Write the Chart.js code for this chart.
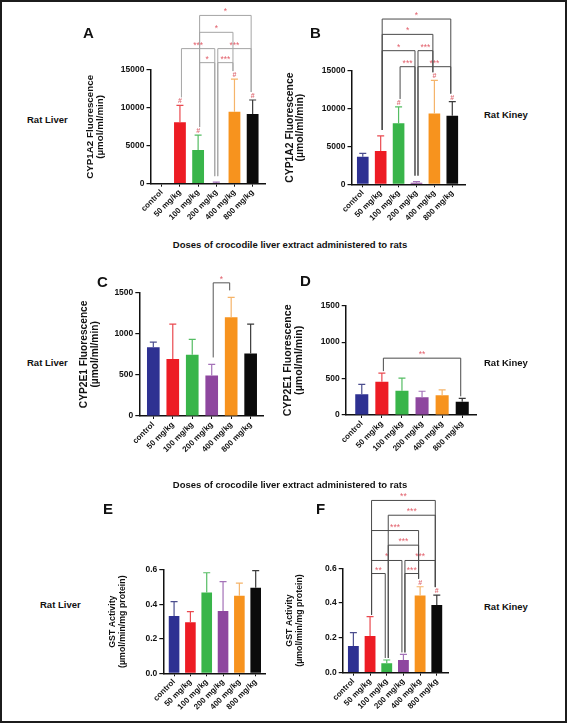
<!DOCTYPE html>
<html>
<head>
<meta charset="utf-8">
<script src="https://cdn.jsdelivr.net/npm/chart.js@4.4.1/dist/chart.umd.min.js"></script>
<style>
  html, body { margin: 0; padding: 0; background: #fff; }
  #page { position: relative; width: 567px; height: 723px; overflow: hidden; font-family: "Liberation Sans", Arial, sans-serif; }
  #frame { position: absolute; left: 0; top: 0; width: 567px; height: 723px; box-sizing: border-box; border: 2px solid #1c1c1c; z-index: 5; }
  canvas { position: absolute; }
  .lbl { position: absolute; font-weight: bold; color: #111; white-space: nowrap; z-index: 4; }
</style>
</head>
<body>
<div id="page">
  <div id="frame"></div>
  <div class="lbl" style="left:83px;top:25px;font-size:15px;line-height:16px">A</div>
  <div class="lbl" style="left:310px;top:25px;font-size:15px;line-height:16px">B</div>
  <div class="lbl" style="left:97px;top:274px;font-size:15px;line-height:16px">C</div>
  <div class="lbl" style="left:300px;top:273px;font-size:15px;line-height:16px">D</div>
  <div class="lbl" style="left:103px;top:501px;font-size:15px;line-height:16px">E</div>
  <div class="lbl" style="left:316px;top:501px;font-size:15px;line-height:16px">F</div>

  <div class="lbl" style="left:27px;top:114px;font-size:9.5px;line-height:12px">Rat Liver</div>
  <div class="lbl" style="left:27px;top:357px;font-size:9.5px;line-height:12px">Rat Liver</div>
  <div class="lbl" style="left:40px;top:599px;font-size:9.5px;line-height:12px">Rat Liver</div>
  <div class="lbl" style="left:484px;top:109px;font-size:9.5px;line-height:12px">Rat Kiney</div>
  <div class="lbl" style="left:484px;top:357px;font-size:9.5px;line-height:12px">Rat Kiney</div>
  <div class="lbl" style="left:484px;top:601px;font-size:9.5px;line-height:12px">Rat Kiney</div>

  <div class="lbl" style="left:0;width:580px;text-align:center;top:239px;font-size:9.5px;line-height:12px">Doses of crocodile liver extract administered to rats</div>
  <div class="lbl" style="left:0;width:580px;text-align:center;top:479px;font-size:9.5px;line-height:12px">Doses of crocodile liver extract administered to rats</div>

  <canvas id="cA"></canvas>
  <canvas id="cB"></canvas>
  <canvas id="cC"></canvas>
  <canvas id="cD"></canvas>
  <canvas id="cE"></canvas>
  <canvas id="cF"></canvas>
</div>

<script>
const doses = ['control', '50 mg/kg', '100 mg/kg', '200 mg/kg', '400 mg/kg', '800 mg/kg']

// y tick values per measure
const cyp1a2Ticks = [0, 5000, 10000, 15000]
const cyp2e1Ticks = [0, 500, 1000, 1500]
const gstTicks = [0, 0.2, 0.4, 0.6]

// A - CYP1A2, rat liver
const cyp1a2LiverMean = [0, 8100, 4450, 100, 9500, 9200]
const cyp1a2LiverSd = [0, 2230, 1970, 100, 4300, 1840]
const cyp1a2LiverHash = [0, 1, 1, 0, 1, 1]
// [from, to, bracket height (y units), label]
const cyp1a2LiverSig = [
  [2, 3, 15970, '*'], [3, 4, 15970, '***'],
  [1, 3, 17820, '***'], [3, 5, 17820, '***'],
  [2, 4, 19970, '*'],
  [2, 5, 22200, '*'],
]

// B - CYP1A2, rat kidney
const cyp1a2KidneyMean = [3660, 4410, 8080, 200, 9360, 9090]
const cyp1a2KidneySd = [440, 1990, 2160, 150, 4410, 1850]
const cyp1a2KidneyHash = [0, 0, 1, 0, 1, 1]
const cyp1a2KidneySig = [
  [2, 3, 15570, '***'], [3, 5, 15570, '***'],
  [1, 3, 17690, '*'], [3, 4, 17690, '***'],
  [1, 4, 19850, '*'],
  [1, 5, 21880, '*'],
]

// C - CYP2E1, rat liver
const cyp2e1LiverMean = [835, 692, 745, 493, 1200, 760]
const cyp2e1LiverSd = [63, 426, 188, 134, 243, 358]
const cyp2e1LiverHash = [0, 0, 0, 0, 0, 0]
const cyp2e1LiverSig = [[3, 4, 1620, '*']]

// D - CYP2E1, rat kidney
const cyp2e1KidneyMean = [284, 458, 332, 243, 272, 183]
const cyp2e1KidneySd = [136, 117, 173, 83, 72, 46]
const cyp2e1KidneyHash = [0, 0, 0, 0, 0, 0]
const cyp2e1KidneySig = [[1, 5, 780, '**']]

// E - GST, rat liver
const gstLiverMean = [0.333, 0.296, 0.470, 0.362, 0.450, 0.497]
const gstLiverSd = [0.083, 0.062, 0.114, 0.170, 0.074, 0.099]
const gstLiverHash = [0, 0, 0, 0, 0, 0]
const gstLiverSig = []

// F - GST, rat kidney
const gstKidneyMean = [0.153, 0.211, 0.054, 0.073, 0.444, 0.389]
const gstKidneySd = [0.077, 0.111, 0.019, 0.032, 0.050, 0.057]
const gstKidneyHash = [0, 0, 0, 0, 1, 1]
const gstKidneySig = [
  [1, 2, 0.570, '**'], [3, 4, 0.570, '***'],
  [1, 3, 0.645, '*'], [3, 5, 0.645, '***'],
  [2, 4, 0.733, '***'],
  [1, 4, 0.817, '***'],
  [2, 5, 0.905, '***'],
  [1, 5, 0.990, '**'],
]

const barColors = ['#2E3192', '#ED1C24', '#39B54A', '#8E479F', '#F7931E', '#0B0B0B']
const errColors = ['#4B4E8E', '#EA4A50', '#55BD63', '#A472B8', '#F5B46A', '#3A3A3A']
const FONT = '"Liberation Sans", Arial, sans-serif'
const XH = 44

function makePanel(o) {
  const lh = o.titleSize * o.titleLine
  const cl = Math.round(o.titleX - lh / 2)
  const ct = o.top
  const cr = Math.round(o.plot.r + 16)
  const cb = Math.round(o.plot.b + XH + 2)
  const canvas = document.getElementById(o.id)
  canvas.width = cr - cl
  canvas.height = cb - ct
  canvas.style.left = cl + 'px'
  canvas.style.top = ct + 'px'

  const want = { left: o.plot.l - cl, right: o.plot.r - cl, top: o.plot.t - ct, bottom: o.plot.b - ct }

  const sig = {
    id: 'sig_' + o.id,
    afterDatasetsDraw(chart) {
      const { ctx, scales: { x, y } } = chart
      ctx.save()
      // error bars (upper only)
      o.mean.forEach((m, i) => {
        const e = o.sd[i]
        if (!e) return
        const px = x.getPixelForValue(i)
        const y0 = y.getPixelForValue(m)
        const y1 = y.getPixelForValue(m + e)
        ctx.strokeStyle = errColors[i]
        ctx.lineWidth = 1.2
        ctx.beginPath()
        ctx.moveTo(px, y0)
        ctx.lineTo(px, y1)
        ctx.moveTo(px - 3.5, y1)
        ctx.lineTo(px + 3.5, y1)
        ctx.stroke()
      })
      // "#" marks
      ctx.fillStyle = '#E07078'
      ctx.font = 'bold 7px ' + FONT
      ctx.textAlign = 'center'
      ctx.textBaseline = 'bottom'
      o.mean.forEach((m, i) => {
        if (!o.hash[i]) return
        ctx.fillText('#', x.getPixelForValue(i), y.getPixelForValue(m + o.sd[i]) - 0.5)
      })
      // significance brackets
      const legEnd = i => y.getPixelForValue(o.mean[i] + o.sd[i]) - (o.hash[i] ? 8 : o.gap)
      o.sig.forEach(([i, j, lvl, lab]) => {
        const yl = y.getPixelForValue(lvl)
        const xi = x.getPixelForValue(i) + 1.5
        const xj = x.getPixelForValue(j) - 1.5
        ctx.strokeStyle = o.bracketColor
        ctx.lineWidth = 1
        ctx.beginPath()
        ctx.moveTo(xi, legEnd(i))
        ctx.lineTo(xi, yl)
        ctx.lineTo(xj, yl)
        ctx.lineTo(xj, legEnd(j))
        ctx.stroke()
        ctx.fillStyle = '#E2606C'
        ctx.font = '8.5px ' + FONT
        ctx.textBaseline = 'alphabetic'
        ctx.fillText(lab, (xi + xj) / 2, yl - 1)
      })
      ctx.restore()
    },
  }

  const chart = new Chart(canvas, {
    type: 'bar',
    data: {
      datasets: [{
        data: o.mean.map((v, i) => ({ x: i, y: v })),
        backgroundColor: barColors,
        borderWidth: 0,
        barPercentage: 0.65,
        categoryPercentage: 1,
      }],
    },
    options: {
      responsive: false,
      animation: false,
      layout: {
        padding: {
          left: 0,
          top: want.top,
          right: canvas.width - want.right,
          bottom: canvas.height - want.bottom - XH,
        },
      },
      plugins: { legend: { display: false }, tooltip: { enabled: false } },
      scales: {
        x: {
          type: 'linear',
          offset: false,
          bounds: 'data',
          min: o.xMin,
          max: o.xMax,
          afterBuildTicks: s => { s.ticks = doses.map((d, i) => ({ value: i })) },
          afterFit: s => { s.height = XH; s.paddingLeft = 0; s.paddingRight = 0 },
          border: { display: true, color: '#111', width: 1.5 },
          grid: { display: true, offset: false, drawOnChartArea: false, drawTicks: true, tickLength: 3, color: '#111', lineWidth: 1 },
          ticks: {
            autoSkip: false,
            maxRotation: 45,
            minRotation: 45,
            padding: 1,
            color: '#111',
            font: { family: FONT, size: 8, weight: 'bold' },
            callback: v => doses[v],
          },
        },
        y: {
          min: o.yTicks[0],
          max: o.yTicks[o.yTicks.length - 1],
          afterBuildTicks: s => { s.ticks = o.yTicks.map(v => ({ value: v })) },
          afterFit: s => { s.width = want.left; s.paddingTop = 0; s.paddingBottom = 0 },
          border: { display: true, color: '#111', width: 1.5 },
          grid: { display: true, drawOnChartArea: false, drawTicks: true, tickLength: 4, color: '#111', lineWidth: 1.2 },
          ticks: {
            padding: 2,
            color: '#111',
            font: { family: FONT, size: 8.5, weight: 'bold' },
            callback: v => o.decimals ? v.toFixed(o.decimals) : String(v),
          },
          title: {
            display: true,
            text: o.title,
            color: '#111',
            padding: 0,
            font: { family: FONT, size: o.titleSize, weight: 'bold', lineHeight: o.titleLine },
          },
        },
      },
    },
    plugins: [sig],
  })

  // nudge the plot area onto the wanted rectangle
  for (let k = 0; k < 3; k++) {
    const a = chart.chartArea
    const p = chart.options.layout.padding
    const dr = a.right - want.right
    const dt = want.top - a.top
    const db = a.bottom - want.bottom
    if (Math.abs(dr) < 0.3 && Math.abs(dt) < 0.3 && Math.abs(db) < 0.3) break
    p.right += dr
    p.top += dt
    p.bottom += db
    chart.update()
  }
}

const cypTitle1 = ['CYP1A2 Fluorescence', '(\u00b5mol/ml/min)']
const cypTitle2 = ['CYP2E1 Fluorescence', '(\u00b5mol/ml/min)']
const gstTitle = ['GST Activity', '(\u00b5mol/min/mg protein)']

makePanel({ id: 'cA', top: 2, plot: { l: 150.5, r: 265, t: 70, b: 183.7 }, titleX: 90, titleSize: 9.8, titleLine: 1.05,
  title: cypTitle1, xMin: -0.62, xMax: 5.68, yTicks: cyp1a2Ticks, decimals: 0,
  mean: cyp1a2LiverMean, sd: cyp1a2LiverSd, hash: cyp1a2LiverHash, sig: cyp1a2LiverSig, gap: 6, bracketColor: '#A5A5A5' })

makePanel({ id: 'cB', top: 2, plot: { l: 351.5, r: 465, t: 71, b: 184.3 }, titleX: 290, titleSize: 10.4, titleLine: 1.0,
  title: cypTitle1, xMin: -0.63, xMax: 5.71, yTicks: cyp1a2Ticks, decimals: 0,
  mean: cyp1a2KidneyMean, sd: cyp1a2KidneySd, hash: cyp1a2KidneyHash, sig: cyp1a2KidneySig, gap: 6, bracketColor: '#4A4A4A' })

makePanel({ id: 'cC', top: 262, plot: { l: 139.3, r: 263.3, t: 292.7, b: 416 }, titleX: 85, titleSize: 10.2, titleLine: 1.08,
  title: cypTitle2, xMin: -0.72, xMax: 5.65, yTicks: cyp2e1Ticks, decimals: 0,
  mean: cyp2e1LiverMean, sd: cyp2e1LiverSd, hash: cyp2e1LiverHash, sig: cyp2e1LiverSig, gap: 7, bracketColor: '#555' })

makePanel({ id: 'cD', top: 262, plot: { l: 345.7, r: 476.7, t: 305.7, b: 415 }, titleX: 288.3, titleSize: 10.6, titleLine: 1.0,
  title: cypTitle2, xMin: -0.8, xMax: 5.72, yTicks: cyp2e1Ticks, decimals: 0,
  mean: cyp2e1KidneyMean, sd: cyp2e1KidneySd, hash: cyp2e1KidneyHash, sig: cyp2e1KidneySig, gap: 2, bracketColor: '#4A4A4A' })

makePanel({ id: 'cE', top: 495, plot: { l: 163.3, r: 265, t: 570, b: 673.3 }, titleX: 113, titleSize: 8.8, titleLine: 1.1,
  title: gstTitle, xMin: -0.66, xMax: 5.57, yTicks: gstTicks, decimals: 1,
  mean: gstLiverMean, sd: gstLiverSd, hash: gstLiverHash, sig: gstLiverSig, gap: 2, bracketColor: '#555' })

makePanel({ id: 'cF', top: 490, plot: { l: 342.7, r: 448.3, t: 568.3, b: 672.7 }, titleX: 290, titleSize: 8.8, titleLine: 1.1,
  title: gstTitle, xMin: -0.64, xMax: 5.69, yTicks: gstTicks, decimals: 1,
  mean: gstKidneyMean, sd: gstKidneySd, hash: gstKidneyHash, sig: gstKidneySig, gap: 2, bracketColor: '#4A4A4A' })
</script>
</body>
</html>
